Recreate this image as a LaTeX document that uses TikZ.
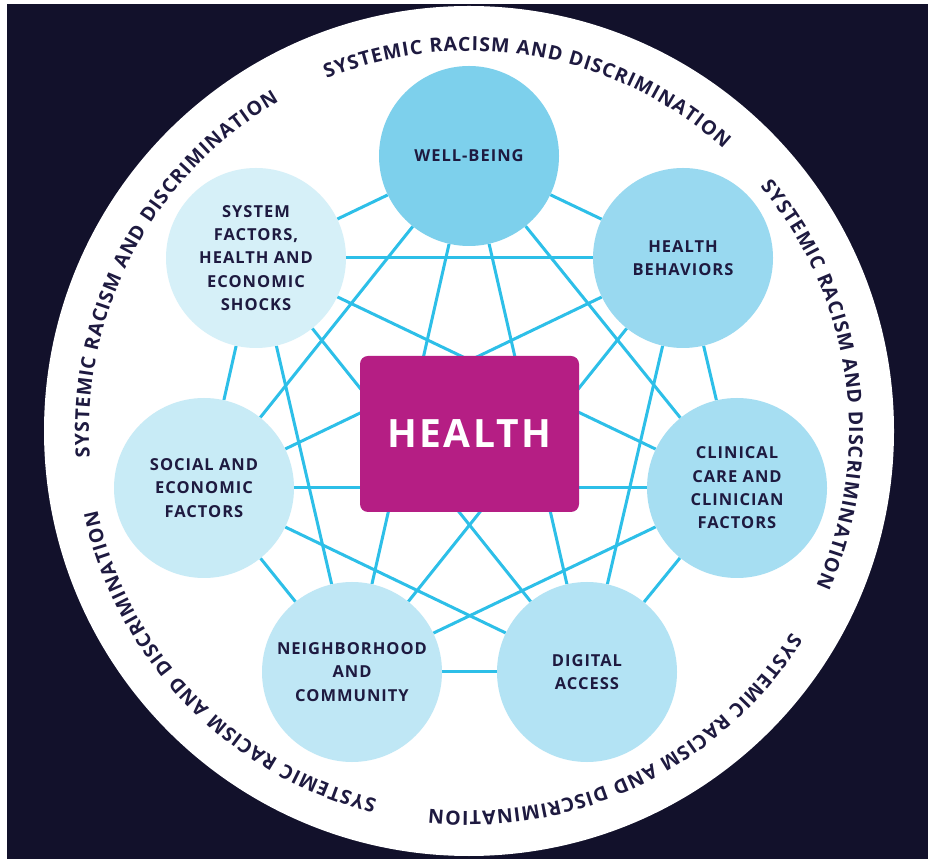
\documentclass[tikz,border=0pt]{standalone}
\usepackage{fontspec}
\setmainfont{Open Sans}
\newfontfamily\labelfont[LetterSpace=6]{Open Sans}
\newfontfamily\ringfamily{Open Sans}
\usepackage{tikz}
\usetikzlibrary{decorations.text}

\definecolor{night}{HTML}{12112B}
\definecolor{ink}{HTML}{1E1A40}
\definecolor{linkblue}{HTML}{2DBFE8}
\definecolor{magentabox}{HTML}{B51E84}
\definecolor{tone1}{HTML}{7DD0EC}
\definecolor{tone2}{HTML}{99D9F0}
\definecolor{tone3}{HTML}{A6DEF2}
\definecolor{tone4}{HTML}{B3E3F4}
\definecolor{tone5}{HTML}{BFE7F5}
\definecolor{tone6}{HTML}{C8EBF6}
\definecolor{tone7}{HTML}{D6F0F8}

\pgfdeclarelayer{backdrop}
\pgfdeclarelayer{links}
\pgfsetlayers{backdrop,links,main}

\newcommand\ringfont{\ringfamily\bfseries\fontsize{19.5}{22}\selectfont}

\tikzset{
  topic/.style={circle,minimum size=180pt,inner sep=0pt,align=center,text=ink,
    font=\labelfont\bfseries\fontsize{16.5}{23.3}\selectfont},
  link/.style={draw=linkblue,line width=3pt},
}

\begin{document}
\begin{tikzpicture}[x=1pt,y=1pt]
  \useasboundingbox (0,0) rectangle (928,859);
  \begin{pgfonlayer}{backdrop}
    \fill[night] (7,0) rectangle (928,855);
    \node[circle,fill=white,minimum size=850pt,inner sep=0pt] (ring) at (469,428) {};
  \end{pgfonlayer}
  % the seven topics round the centre
  \node[topic,fill=tone1] (wellbeing) at (469,703) {WELL-BEING};
  \node[topic,fill=tone2] (behaviors) at (683,601) {HEALTH\\BEHAVIORS};
  \node[topic,fill=tone3] (clinical)  at (737,371) {CLINICAL\\CARE AND\\CLINICIAN\\FACTORS};
  \node[topic,fill=tone4] (digital)   at (587,187) {DIGITAL\\ACCESS};
  \node[topic,fill=tone5] (neighbor)  at (352,187) {NEIGHBORHOOD\\AND\\COMMUNITY};
  \node[topic,fill=tone6] (social)    at (204,371) {SOCIAL AND\\ECONOMIC\\FACTORS};
  \node[topic,fill=tone7] (system)    at (256,601) {SYSTEM\\FACTORS,\\HEALTH AND\\ECONOMIC\\SHOCKS};
  \node[rectangle,rounded corners=8pt,fill=magentabox,minimum width=219pt,minimum height=156pt,
    text=white,font=\labelfont\bfseries\fontsize{39}{44}\selectfont] (health) at (469.5,425) {HEALTH};
  % every topic linked to every other one
  \begin{pgfonlayer}{links}
    \foreach \a [count=\i] in {wellbeing,behaviors,clinical,digital,neighbor,social,system}{
      \foreach \b [count=\j] in {wellbeing,behaviors,clinical,digital,neighbor,social,system}{
        \ifnum\j>\i \draw[link] (\a) -- (\b); \fi}}
  \end{pgfonlayer}
  % ring text
  \foreach \m in {80,8,-64,-136,-208}{
    \path[decorate,decoration={text along path,text color=ink,text align=fit to path,
      text={|\ringfont|SYSTEMIC RACISM AND DISCRIMINATION}}]
      (ring.center) ++(\m+32:380) arc[start angle=\m+32,end angle=\m-32,radius=380];}
\end{tikzpicture}
\end{document}
